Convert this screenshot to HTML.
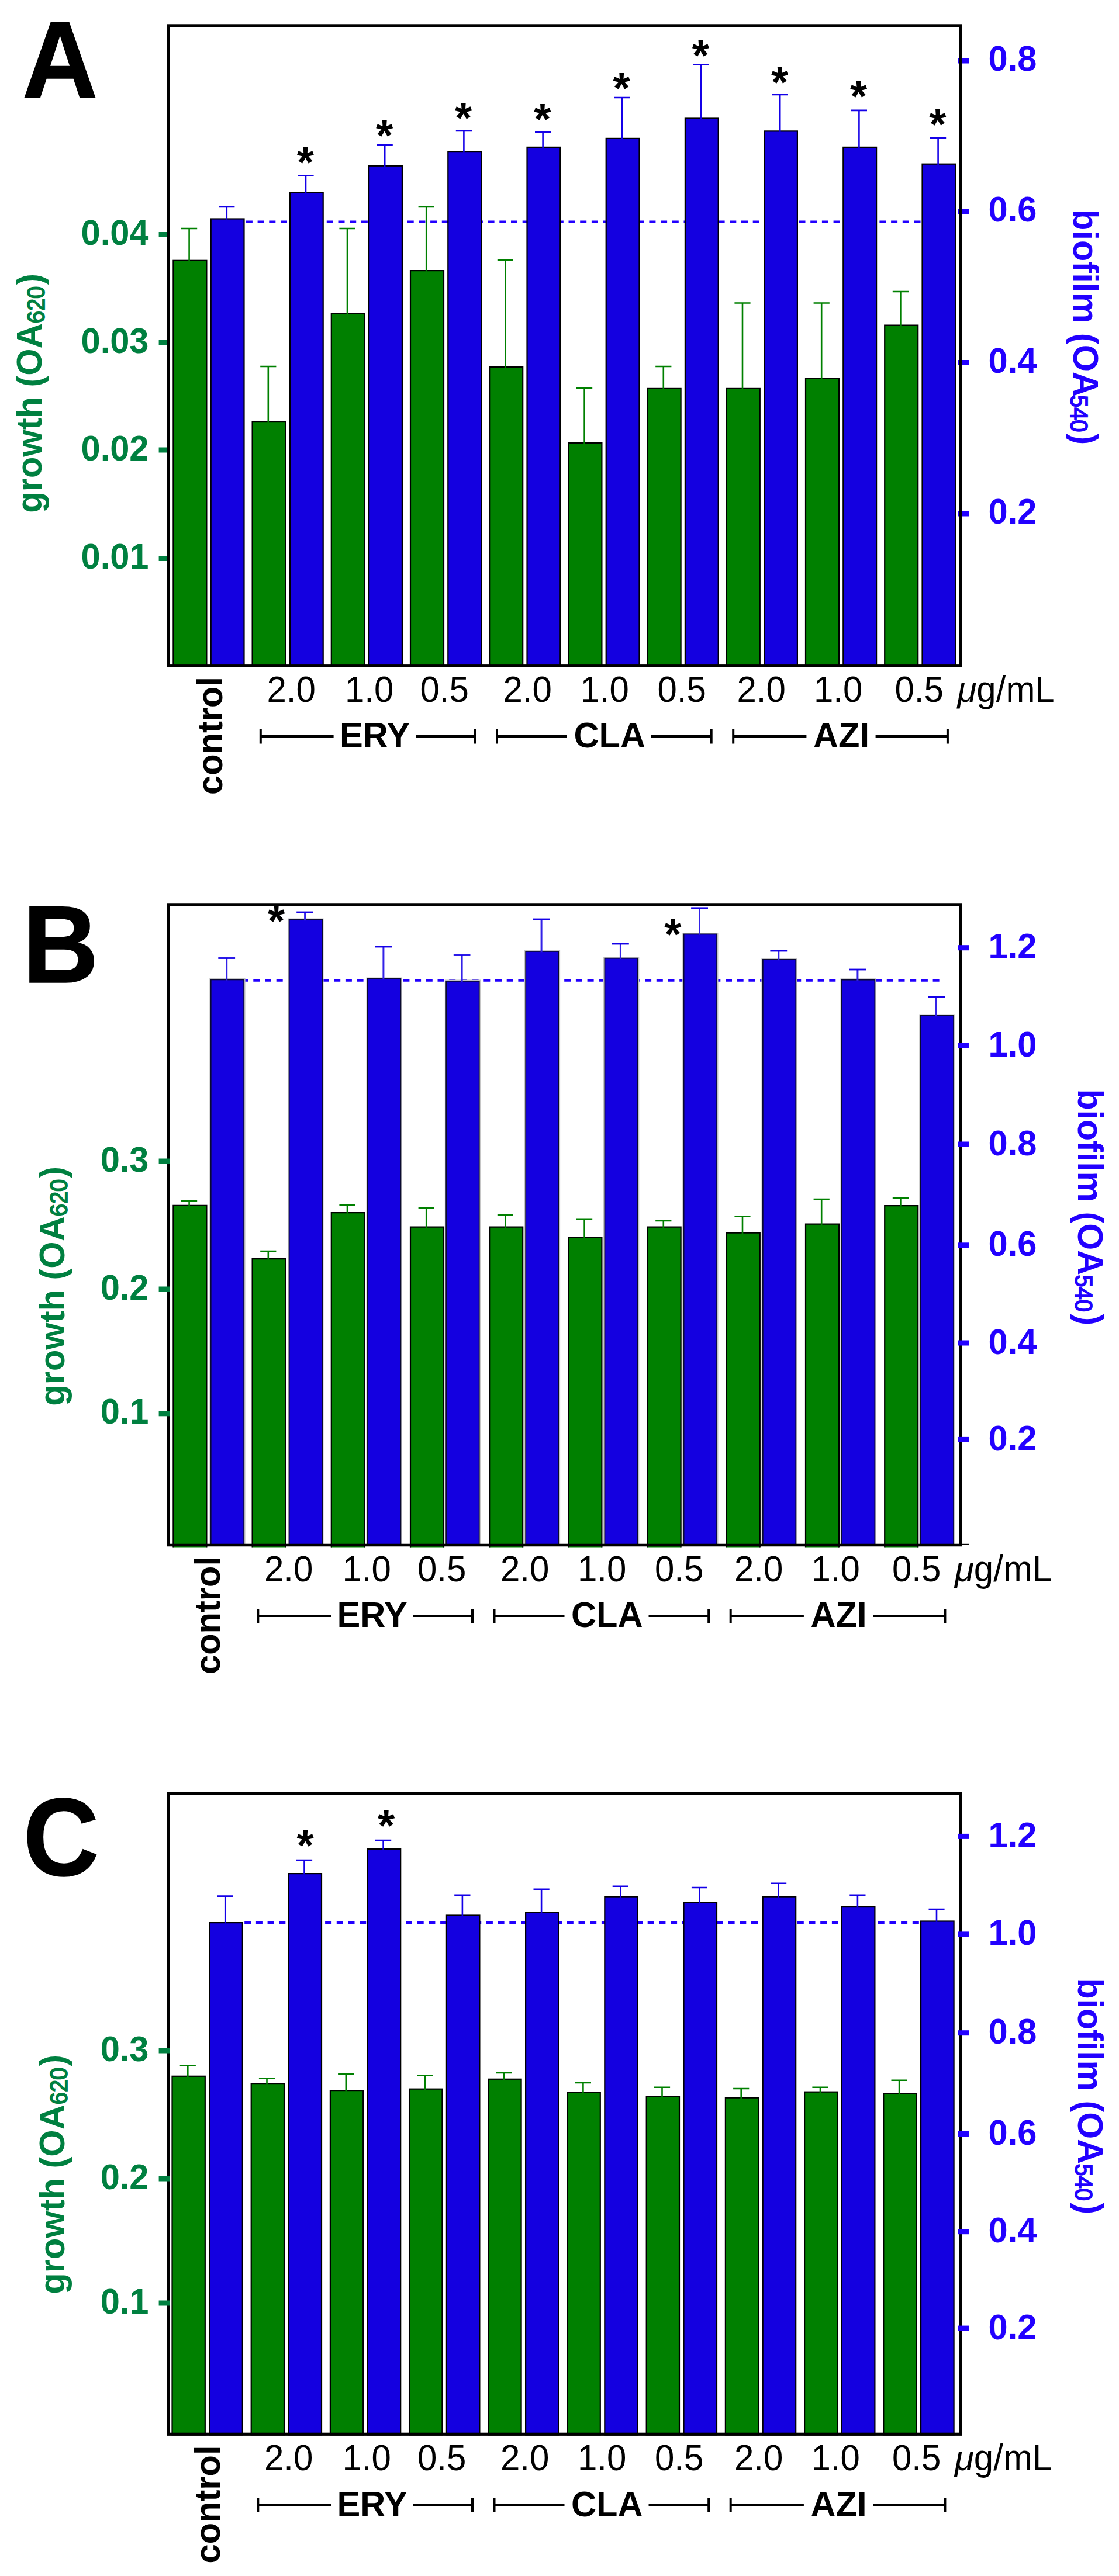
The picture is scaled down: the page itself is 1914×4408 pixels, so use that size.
<!DOCTYPE html>
<html><head><meta charset="utf-8"><title>figure</title>
<style>html,body{margin:0;padding:0;background:#fff}svg{display:block}text{font-family:"Liberation Sans", sans-serif}</style>
</head><body>
<svg width="1914" height="4408" viewBox="0 0 1914 4408">
<rect width="1914" height="4408" fill="#fff"/>
<g id="panelA">
<line x1="420.90000000000003" y1="379.8" x2="1600" y2="379.8" stroke="#2200ff" stroke-width="4.4" stroke-dasharray="11 8.7"/>
<rect x="296.4" y="445.8" width="57.0" height="694.8" fill="#008000" stroke="#000" stroke-width="2.2"/>
<path d="M323.6 447.1V391.0M310.0 391.0H337.2" stroke="#008000" stroke-width="2.6" fill="none"/>
<rect x="360.7" y="374.5" width="56.8" height="766.1" fill="#1400e0" stroke="#000" stroke-width="2.2"/>
<path d="M387.8 375.8V354.0M374.2 354.0H401.4" stroke="#1400e8" stroke-width="2.6" fill="none"/>
<rect x="431.6" y="721.1" width="57.0" height="419.5" fill="#008000" stroke="#000" stroke-width="2.2"/>
<path d="M458.8 722.4V627.0M445.2 627.0H472.4" stroke="#008000" stroke-width="2.6" fill="none"/>
<rect x="495.9" y="329.4" width="56.8" height="811.2" fill="#1400e0" stroke="#000" stroke-width="2.2"/>
<path d="M523.0 330.7V300.3M509.4 300.3H536.6" stroke="#1400e8" stroke-width="2.6" fill="none"/>
<rect x="566.8" y="536.5" width="57.0" height="604.1" fill="#008000" stroke="#000" stroke-width="2.2"/>
<path d="M594.0 537.8V391.0M580.4 391.0H607.6" stroke="#008000" stroke-width="2.6" fill="none"/>
<rect x="631.1" y="283.8" width="56.8" height="856.8" fill="#1400e0" stroke="#000" stroke-width="2.2"/>
<path d="M658.2 285.1V248.3M644.6 248.3H671.8" stroke="#1400e8" stroke-width="2.6" fill="none"/>
<rect x="702.0" y="463.1" width="57.0" height="677.5" fill="#008000" stroke="#000" stroke-width="2.2"/>
<path d="M729.2 464.4V354.0M715.6 354.0H742.8" stroke="#008000" stroke-width="2.6" fill="none"/>
<rect x="766.3" y="259.1" width="56.8" height="881.5" fill="#1400e0" stroke="#000" stroke-width="2.2"/>
<path d="M793.4 260.4V224.0M779.8 224.0H807.0" stroke="#1400e8" stroke-width="2.6" fill="none"/>
<rect x="837.2" y="628.1" width="57.0" height="512.5" fill="#008000" stroke="#000" stroke-width="2.2"/>
<path d="M864.4 629.4V444.7M850.8 444.7H878.0" stroke="#008000" stroke-width="2.6" fill="none"/>
<rect x="901.5" y="251.9" width="56.8" height="888.7" fill="#1400e0" stroke="#000" stroke-width="2.2"/>
<path d="M928.6 253.2V226.4M915.0 226.4H942.2" stroke="#1400e8" stroke-width="2.6" fill="none"/>
<rect x="972.4" y="758.1" width="57.0" height="382.5" fill="#008000" stroke="#000" stroke-width="2.2"/>
<path d="M999.6 759.4V663.8M986.0 663.8H1013.2" stroke="#008000" stroke-width="2.6" fill="none"/>
<rect x="1036.7" y="236.9" width="56.8" height="903.7" fill="#1400e0" stroke="#000" stroke-width="2.2"/>
<path d="M1063.8 238.2V167.0M1050.2 167.0H1077.4" stroke="#1400e8" stroke-width="2.6" fill="none"/>
<rect x="1107.6" y="664.9" width="57.0" height="475.7" fill="#008000" stroke="#000" stroke-width="2.2"/>
<path d="M1134.8 666.2V627.0M1121.2 627.0H1148.4" stroke="#008000" stroke-width="2.6" fill="none"/>
<rect x="1171.9" y="202.5" width="56.8" height="938.1" fill="#1400e0" stroke="#000" stroke-width="2.2"/>
<path d="M1199.0 203.8V110.7M1185.4 110.7H1212.6" stroke="#1400e8" stroke-width="2.6" fill="none"/>
<rect x="1242.8" y="664.9" width="57.0" height="475.7" fill="#008000" stroke="#000" stroke-width="2.2"/>
<path d="M1270.0 666.2V518.5M1256.4 518.5H1283.6" stroke="#008000" stroke-width="2.6" fill="none"/>
<rect x="1307.1" y="224.4" width="56.8" height="916.2" fill="#1400e0" stroke="#000" stroke-width="2.2"/>
<path d="M1334.2 225.7V162.0M1320.6 162.0H1347.8" stroke="#1400e8" stroke-width="2.6" fill="none"/>
<rect x="1378.0" y="647.4" width="57.0" height="493.2" fill="#008000" stroke="#000" stroke-width="2.2"/>
<path d="M1405.2 648.7V518.5M1391.6 518.5H1418.8" stroke="#008000" stroke-width="2.6" fill="none"/>
<rect x="1442.3" y="251.9" width="56.8" height="888.7" fill="#1400e0" stroke="#000" stroke-width="2.2"/>
<path d="M1469.4 253.2V188.9M1455.8 188.9H1483.0" stroke="#1400e8" stroke-width="2.6" fill="none"/>
<rect x="1513.2" y="556.6" width="57.0" height="584.0" fill="#008000" stroke="#000" stroke-width="2.2"/>
<path d="M1540.4 557.9V499.0M1526.8 499.0H1554.0" stroke="#008000" stroke-width="2.6" fill="none"/>
<rect x="1577.5" y="280.7" width="56.8" height="859.9" fill="#1400e0" stroke="#000" stroke-width="2.2"/>
<path d="M1604.6 282.0V235.8M1591.0 235.8H1618.2" stroke="#1400e8" stroke-width="2.6" fill="none"/>
<rect x="271.6" y="397.0" width="19.2" height="9" fill="#008040"/>
<rect x="271.6" y="581.5" width="19.2" height="9" fill="#008040"/>
<rect x="271.6" y="765.5" width="19.2" height="9" fill="#008040"/>
<rect x="271.6" y="951.0" width="19.2" height="9" fill="#008040"/>
<rect x="1638" y="99.5" width="19.2" height="9" fill="#2200ff"/>
<rect x="1638" y="357.5" width="19.2" height="9" fill="#2200ff"/>
<rect x="1638" y="616.0" width="19.2" height="9" fill="#2200ff"/>
<rect x="1638" y="874.5" width="19.2" height="9" fill="#2200ff"/>
<rect x="288.3" y="43.7" width="1354.4" height="1095.8" fill="none" stroke="#000" stroke-width="4.8"/>
<text transform="translate(254.5 419.0) scale(1 1.04)" font-size="59.6" font-weight="bold" text-anchor="end" fill="#008040">0.04</text>
<text transform="translate(254.5 603.5) scale(1 1.04)" font-size="59.6" font-weight="bold" text-anchor="end" fill="#008040">0.03</text>
<text transform="translate(254.5 787.5) scale(1 1.04)" font-size="59.6" font-weight="bold" text-anchor="end" fill="#008040">0.02</text>
<text transform="translate(254.5 973.0) scale(1 1.04)" font-size="59.6" font-weight="bold" text-anchor="end" fill="#008040">0.01</text>
<text transform="translate(1690.5 121.0) scale(1 1.04)" font-size="59.6" font-weight="bold" fill="#2200ff">0.8</text>
<text transform="translate(1690.5 379.0) scale(1 1.04)" font-size="59.6" font-weight="bold" fill="#2200ff">0.6</text>
<text transform="translate(1690.5 637.5) scale(1 1.04)" font-size="59.6" font-weight="bold" fill="#2200ff">0.4</text>
<text transform="translate(1690.5 896.0) scale(1 1.04)" font-size="59.6" font-weight="bold" fill="#2200ff">0.2</text>
<text transform="translate(522.3 303.3)" font-size="75" font-weight="bold" text-anchor="middle" fill="#000">*</text>
<text transform="translate(657.5 257.0)" font-size="75" font-weight="bold" text-anchor="middle" fill="#000">*</text>
<text transform="translate(792.7 227.0)" font-size="75" font-weight="bold" text-anchor="middle" fill="#000">*</text>
<text transform="translate(927.9 229.0)" font-size="75" font-weight="bold" text-anchor="middle" fill="#000">*</text>
<text transform="translate(1063.1 176.0)" font-size="75" font-weight="bold" text-anchor="middle" fill="#000">*</text>
<text transform="translate(1198.3 119.8)" font-size="75" font-weight="bold" text-anchor="middle" fill="#000">*</text>
<text transform="translate(1333.5 165.5)" font-size="75" font-weight="bold" text-anchor="middle" fill="#000">*</text>
<text transform="translate(1468.7 189.8)" font-size="75" font-weight="bold" text-anchor="middle" fill="#000">*</text>
<text transform="translate(1603.9 238.0)" font-size="75" font-weight="bold" text-anchor="middle" fill="#000">*</text>
<text transform="translate(38.0 167.0) scale(1 1.047)" font-size="179" font-weight="bold" fill="#000" stroke="#000" stroke-width="1.6">A</text>
<g transform="translate(71.3 877.7) rotate(-90)" fill="#008040">
<text transform="translate(0.0 0.0) scale(1 1.04)" font-size="59.6" font-weight="bold" fill="#008040">growth (OA</text>
<text transform="translate(324.5 4.7) scale(1 1.12)" font-size="38" fill="#008040" stroke="#008040" stroke-width="1.5">620</text>
<text transform="translate(390.0 0.0) scale(1 1.04)" font-size="59.6" font-weight="bold" fill="#008040">)</text>
</g>
<g transform="translate(1836 358) rotate(90)" fill="#2200ff">
<text transform="translate(0.0 0.0) scale(1 1.04)" font-size="59.6" font-weight="bold" fill="#2200ff">biofilm (OA</text>
<text transform="translate(318.0 4.7) scale(1 1.12)" font-size="38" fill="#2200ff" stroke="#2200ff" stroke-width="1.5">540</text>
<text transform="translate(383.5 0.0) scale(1 1.04)" font-size="59.6" font-weight="bold" fill="#2200ff">)</text>
</g>
<g transform="translate(0 0)" fill="#000">
<text transform="translate(380.0 1360.0) rotate(-90) scale(1 1.04)" font-size="59.6" font-weight="bold" fill="#000">control</text>
<text transform="translate(456.5 1200.5) scale(1 1.035)" font-size="60" fill="#000">2.0</text>
<text transform="translate(590.0 1200.5) scale(1 1.035)" font-size="60" fill="#000">1.0</text>
<text transform="translate(718.5 1200.5) scale(1 1.035)" font-size="60" fill="#000">0.5</text>
<text transform="translate(860.5 1200.5) scale(1 1.035)" font-size="60" fill="#000">2.0</text>
<text transform="translate(992.5 1200.5) scale(1 1.035)" font-size="60" fill="#000">1.0</text>
<text transform="translate(1124.5 1200.5) scale(1 1.035)" font-size="60" fill="#000">0.5</text>
<text transform="translate(1260.5 1200.5) scale(1 1.035)" font-size="60" fill="#000">2.0</text>
<text transform="translate(1392.0 1200.5) scale(1 1.035)" font-size="60" fill="#000">1.0</text>
<text transform="translate(1530.5 1200.5) scale(1 1.035)" font-size="60" fill="#000">0.5</text>
<text transform="translate(1637.5 1200.5) scale(1 1.035)" font-size="60" fill="#000"><tspan font-style="italic">μ</tspan>g/mL</text>
<text transform="translate(581.0 1279.0) scale(1 1.04)" font-size="59.6" font-weight="bold" fill="#000">ERY</text>
<path d="M445.8 1248V1272.4M445.8 1260H570.6M711 1260H812.5M812.5 1248V1272.4" stroke="#000" stroke-width="4" fill="none"/>
<text transform="translate(981.5 1279.0) scale(1 1.04)" font-size="59.6" font-weight="bold" fill="#000">CLA</text>
<path d="M850.0 1248V1272.4M850.0 1260H970M1114 1260H1216.7M1216.7 1248V1272.4" stroke="#000" stroke-width="4" fill="none"/>
<text transform="translate(1391.0 1279.0) scale(1 1.04)" font-size="59.6" font-weight="bold" fill="#000">AZI</text>
<path d="M1254.2 1248V1272.4M1254.2 1260H1379.4M1497.6 1260H1620.9M1620.9 1248V1272.4" stroke="#000" stroke-width="4" fill="none"/>
</g>
</g>
<g id="panelB">
<line x1="413.6" y1="1677.6" x2="1615" y2="1677.6" stroke="#2200ff" stroke-width="4.4" stroke-dasharray="11 8.7"/>
<path d="M296.4 2648.5V2062.8H353.4V2648.5" fill="#008000" stroke="#000" stroke-width="2.2"/>
<path d="M323.6 2064.1V2054.8M310.0 2054.8H337.2" stroke="#008000" stroke-width="2.6" fill="none"/>
<rect x="358.3" y="1674.0" width="61.3" height="969.0" fill="#c6c6c6"/>
<rect x="360.7" y="1676.4" width="56.5" height="967.5" fill="#1400e0" stroke="#0a0a30" stroke-width="1.8"/>
<path d="M387.7 1677.7V1639.5" stroke="#3322e8" stroke-width="3" fill="none"/>
<path d="M373.3 1639.5H402.1" stroke="#1400e8" stroke-width="2.8" fill="none"/>
<path d="M431.6 2648.5V2154.1H488.6V2648.5" fill="#008000" stroke="#000" stroke-width="2.2"/>
<path d="M458.8 2155.4V2141.0M445.2 2141.0H472.4" stroke="#008000" stroke-width="2.6" fill="none"/>
<rect x="492.2" y="1571.5" width="61.3" height="1071.5" fill="#c6c6c6"/>
<rect x="494.6" y="1573.9" width="56.5" height="1070.0" fill="#1400e0" stroke="#0a0a30" stroke-width="1.8"/>
<path d="M521.6 1575.2V1561.0" stroke="#3322e8" stroke-width="3" fill="none"/>
<path d="M507.2 1561.0H536.0" stroke="#1400e8" stroke-width="2.8" fill="none"/>
<path d="M566.8 2648.5V2075.1H623.8V2648.5" fill="#008000" stroke="#000" stroke-width="2.2"/>
<path d="M594.0 2076.4V2062.0M580.4 2062.0H607.6" stroke="#008000" stroke-width="2.6" fill="none"/>
<rect x="626.5" y="1672.5" width="61.3" height="970.5" fill="#c6c6c6"/>
<rect x="628.9" y="1674.9" width="56.5" height="969.0" fill="#1400e0" stroke="#0a0a30" stroke-width="1.8"/>
<path d="M655.9 1676.2V1620.0" stroke="#3322e8" stroke-width="3" fill="none"/>
<path d="M641.5 1620.0H670.2" stroke="#1400e8" stroke-width="2.8" fill="none"/>
<path d="M702.0 2648.5V2099.7H759.0V2648.5" fill="#008000" stroke="#000" stroke-width="2.2"/>
<path d="M729.2 2101.0V2067.0M715.6 2067.0H742.8" stroke="#008000" stroke-width="2.6" fill="none"/>
<rect x="760.8" y="1676.5" width="61.3" height="966.5" fill="#c6c6c6"/>
<rect x="763.2" y="1678.9" width="56.5" height="965.0" fill="#1400e0" stroke="#0a0a30" stroke-width="1.8"/>
<path d="M790.1 1680.2V1634.5" stroke="#3322e8" stroke-width="3" fill="none"/>
<path d="M775.8 1634.5H804.5" stroke="#1400e8" stroke-width="2.8" fill="none"/>
<path d="M837.2 2648.5V2099.7H894.2V2648.5" fill="#008000" stroke="#000" stroke-width="2.2"/>
<path d="M864.4 2101.0V2079.0M850.8 2079.0H878.0" stroke="#008000" stroke-width="2.6" fill="none"/>
<rect x="896.8" y="1625.5" width="61.3" height="1017.5" fill="#c6c6c6"/>
<rect x="899.2" y="1627.9" width="56.5" height="1016.0" fill="#1400e0" stroke="#0a0a30" stroke-width="1.8"/>
<path d="M926.1 1629.2V1573.0" stroke="#3322e8" stroke-width="3" fill="none"/>
<path d="M911.8 1573.0H940.5" stroke="#1400e8" stroke-width="2.8" fill="none"/>
<path d="M972.4 2648.5V2117.1H1029.4V2648.5" fill="#008000" stroke="#000" stroke-width="2.2"/>
<path d="M999.6 2118.4V2086.7M986.0 2086.7H1013.2" stroke="#008000" stroke-width="2.6" fill="none"/>
<rect x="1032.0" y="1637.3" width="61.3" height="1005.7" fill="#c6c6c6"/>
<rect x="1034.4" y="1639.7" width="56.5" height="1004.2" fill="#1400e0" stroke="#0a0a30" stroke-width="1.8"/>
<path d="M1061.4 1641.0V1615.0" stroke="#3322e8" stroke-width="3" fill="none"/>
<path d="M1047.0 1615.0H1075.8" stroke="#1400e8" stroke-width="2.8" fill="none"/>
<path d="M1107.6 2648.5V2099.7H1164.6V2648.5" fill="#008000" stroke="#000" stroke-width="2.2"/>
<path d="M1134.8 2101.0V2089.0M1121.2 2089.0H1148.4" stroke="#008000" stroke-width="2.6" fill="none"/>
<rect x="1167.2" y="1596.0" width="61.3" height="1047.0" fill="#c6c6c6"/>
<rect x="1169.6" y="1598.4" width="56.5" height="1045.5" fill="#1400e0" stroke="#0a0a30" stroke-width="1.8"/>
<path d="M1196.5 1599.7V1553.8" stroke="#3322e8" stroke-width="3" fill="none"/>
<path d="M1182.1 1553.8H1211.0" stroke="#1400e8" stroke-width="2.8" fill="none"/>
<path d="M1242.8 2648.5V2109.7H1299.8V2648.5" fill="#008000" stroke="#000" stroke-width="2.2"/>
<path d="M1270.0 2111.0V2081.7M1256.4 2081.7H1283.6" stroke="#008000" stroke-width="2.6" fill="none"/>
<rect x="1302.4" y="1639.5" width="61.3" height="1003.5" fill="#c6c6c6"/>
<rect x="1304.8" y="1641.9" width="56.5" height="1002.0" fill="#1400e0" stroke="#0a0a30" stroke-width="1.8"/>
<path d="M1331.8 1643.2V1627.0" stroke="#3322e8" stroke-width="3" fill="none"/>
<path d="M1317.4 1627.0H1346.2" stroke="#1400e8" stroke-width="2.8" fill="none"/>
<path d="M1378.0 2648.5V2094.7H1435.0V2648.5" fill="#008000" stroke="#000" stroke-width="2.2"/>
<path d="M1405.2 2096.0V2052.0M1391.6 2052.0H1418.8" stroke="#008000" stroke-width="2.6" fill="none"/>
<rect x="1437.5" y="1674.2" width="61.3" height="968.8" fill="#c6c6c6"/>
<rect x="1439.9" y="1676.6" width="56.5" height="967.3" fill="#1400e0" stroke="#0a0a30" stroke-width="1.8"/>
<path d="M1466.9 1677.9V1659.0" stroke="#3322e8" stroke-width="3" fill="none"/>
<path d="M1452.5 1659.0H1481.3" stroke="#1400e8" stroke-width="2.8" fill="none"/>
<path d="M1513.2 2648.5V2063.1H1570.2V2648.5" fill="#008000" stroke="#000" stroke-width="2.2"/>
<path d="M1540.4 2064.4V2050.0M1526.8 2050.0H1554.0" stroke="#008000" stroke-width="2.6" fill="none"/>
<rect x="1572.2" y="1735.5" width="61.3" height="907.5" fill="#c6c6c6"/>
<rect x="1574.6" y="1737.9" width="56.5" height="906.0" fill="#1400e0" stroke="#0a0a30" stroke-width="1.8"/>
<path d="M1601.5 1739.2V1705.8" stroke="#3322e8" stroke-width="3" fill="none"/>
<path d="M1587.1 1705.8H1616.0" stroke="#1400e8" stroke-width="2.8" fill="none"/>
<path d="M288.3 2643V1548.7H1642.7V2643" fill="none" stroke="#000" stroke-width="4.8"/>
<line x1="285.90000000000003" y1="2644" x2="1645.1000000000001" y2="2644" stroke="#000" stroke-width="4.7"/>
<line x1="1642.7" y1="2642.6" x2="1657" y2="2642.6" stroke="#000" stroke-width="1.6"/>
<rect x="271.6" y="1982.5" width="19.2" height="9" fill="#008040"/>
<rect x="271.6" y="2201.5" width="19.2" height="9" fill="#008040"/>
<rect x="271.6" y="2414.3" width="19.2" height="9" fill="#008040"/>
<rect x="1638" y="1617.2" width="19.2" height="9" fill="#2200ff"/>
<rect x="1638" y="1784.7" width="19.2" height="9" fill="#2200ff"/>
<rect x="1638" y="1953.5" width="19.2" height="9" fill="#2200ff"/>
<rect x="1638" y="2126.3" width="19.2" height="9" fill="#2200ff"/>
<rect x="1638" y="2293.5" width="19.2" height="9" fill="#2200ff"/>
<rect x="1638" y="2458.9" width="19.2" height="9" fill="#2200ff"/>
<text transform="translate(254.5 2004.5) scale(1 1.04)" font-size="59.6" font-weight="bold" text-anchor="end" fill="#008040">0.3</text>
<text transform="translate(254.5 2223.5) scale(1 1.04)" font-size="59.6" font-weight="bold" text-anchor="end" fill="#008040">0.2</text>
<text transform="translate(254.5 2436.3) scale(1 1.04)" font-size="59.6" font-weight="bold" text-anchor="end" fill="#008040">0.1</text>
<text transform="translate(1690.5 1640.2) scale(1 1.04)" font-size="59.6" font-weight="bold" fill="#2200ff">1.2</text>
<text transform="translate(1690.5 1807.7) scale(1 1.04)" font-size="59.6" font-weight="bold" fill="#2200ff">1.0</text>
<text transform="translate(1690.5 1976.5) scale(1 1.04)" font-size="59.6" font-weight="bold" fill="#2200ff">0.8</text>
<text transform="translate(1690.5 2149.3) scale(1 1.04)" font-size="59.6" font-weight="bold" fill="#2200ff">0.6</text>
<text transform="translate(1690.5 2316.5) scale(1 1.04)" font-size="59.6" font-weight="bold" fill="#2200ff">0.4</text>
<text transform="translate(1690.5 2481.9) scale(1 1.04)" font-size="59.6" font-weight="bold" fill="#2200ff">0.2</text>
<text transform="translate(472.7 1600.5)" font-size="75" font-weight="bold" text-anchor="middle" fill="#000">*</text>
<text transform="translate(1150.8 1624.3)" font-size="75" font-weight="bold" text-anchor="middle" fill="#000">*</text>
<text transform="translate(39.0 1680.6) scale(1 1.047)" font-size="179" font-weight="bold" fill="#000" stroke="#000" stroke-width="1.6">B</text>
<g transform="translate(110 2405.7) rotate(-90)" fill="#008040">
<text transform="translate(0.0 0.0) scale(1 1.04)" font-size="59.6" font-weight="bold" fill="#008040">growth (OA</text>
<text transform="translate(324.5 4.7) scale(1 1.12)" font-size="38" fill="#008040" stroke="#008040" stroke-width="1.5">620</text>
<text transform="translate(390.0 0.0) scale(1 1.04)" font-size="59.6" font-weight="bold" fill="#008040">)</text>
</g>
<g transform="translate(1843.5 1863.5) rotate(90)" fill="#2200ff">
<text transform="translate(0.0 0.0) scale(1 1.04)" font-size="59.1" font-weight="bold" fill="#2200ff">biofilm (OA</text>
<text transform="translate(318.0 4.7) scale(1 1.12)" font-size="38" fill="#2200ff" stroke="#2200ff" stroke-width="1.5">540</text>
<text transform="translate(385.0 0.0) scale(1 1.04)" font-size="59.6" font-weight="bold" fill="#2200ff">)</text>
</g>
<g transform="translate(-4.5 1505)" fill="#000">
<text transform="translate(380.0 1360.0) rotate(-90) scale(1 1.04)" font-size="59.6" font-weight="bold" fill="#000">control</text>
<text transform="translate(456.5 1200.5) scale(1 1.035)" font-size="60" fill="#000">2.0</text>
<text transform="translate(590.0 1200.5) scale(1 1.035)" font-size="60" fill="#000">1.0</text>
<text transform="translate(718.5 1200.5) scale(1 1.035)" font-size="60" fill="#000">0.5</text>
<text transform="translate(860.5 1200.5) scale(1 1.035)" font-size="60" fill="#000">2.0</text>
<text transform="translate(992.5 1200.5) scale(1 1.035)" font-size="60" fill="#000">1.0</text>
<text transform="translate(1124.5 1200.5) scale(1 1.035)" font-size="60" fill="#000">0.5</text>
<text transform="translate(1260.5 1200.5) scale(1 1.035)" font-size="60" fill="#000">2.0</text>
<text transform="translate(1392.0 1200.5) scale(1 1.035)" font-size="60" fill="#000">1.0</text>
<text transform="translate(1530.5 1200.5) scale(1 1.035)" font-size="60" fill="#000">0.5</text>
<text transform="translate(1637.5 1200.5) scale(1 1.035)" font-size="60" fill="#000"><tspan font-style="italic">μ</tspan>g/mL</text>
<text transform="translate(581.0 1279.0) scale(1 1.04)" font-size="59.6" font-weight="bold" fill="#000">ERY</text>
<path d="M445.8 1248V1272.4M445.8 1260H570.6M711 1260H812.5M812.5 1248V1272.4" stroke="#000" stroke-width="4" fill="none"/>
<text transform="translate(981.5 1279.0) scale(1 1.04)" font-size="59.6" font-weight="bold" fill="#000">CLA</text>
<path d="M850.0 1248V1272.4M850.0 1260H970M1114 1260H1216.7M1216.7 1248V1272.4" stroke="#000" stroke-width="4" fill="none"/>
<text transform="translate(1391.0 1279.0) scale(1 1.04)" font-size="59.6" font-weight="bold" fill="#000">AZI</text>
<path d="M1254.2 1248V1272.4M1254.2 1260H1379.4M1497.6 1260H1620.9M1620.9 1248V1272.4" stroke="#000" stroke-width="4" fill="none"/>
</g>
</g>
<g id="panelC">
<line x1="418.2" y1="3290" x2="1600" y2="3290" stroke="#2200ff" stroke-width="4.4" stroke-dasharray="11 8.7"/>
<rect x="294.5" y="3552.8" width="56.3" height="613.6" fill="#008000" stroke="#000" stroke-width="2.2"/>
<path d="M321.3 3554.1V3534.8M307.7 3534.8H334.9" stroke="#008000" stroke-width="2.6" fill="none"/>
<rect x="358.3" y="3290.1" width="56.5" height="876.3" fill="#1400e0" stroke="#000" stroke-width="2.2"/>
<path d="M385.2 3291.4V3244.6M371.6 3244.6H398.8" stroke="#1400e8" stroke-width="2.6" fill="none"/>
<rect x="429.7" y="3565.1" width="56.3" height="601.3" fill="#008000" stroke="#000" stroke-width="2.2"/>
<path d="M456.5 3566.4V3556.7M442.9 3556.7H470.1" stroke="#008000" stroke-width="2.6" fill="none"/>
<rect x="493.5" y="3206.1" width="56.5" height="960.3" fill="#1400e0" stroke="#000" stroke-width="2.2"/>
<path d="M520.5 3207.4V3183.0M506.9 3183.0H534.1" stroke="#1400e8" stroke-width="2.6" fill="none"/>
<rect x="564.9" y="3577.1" width="56.3" height="589.3" fill="#008000" stroke="#000" stroke-width="2.2"/>
<path d="M591.8 3578.4V3549.0M578.1 3549.0H605.4" stroke="#008000" stroke-width="2.6" fill="none"/>
<rect x="628.7" y="3164.0" width="56.5" height="1002.4" fill="#1400e0" stroke="#000" stroke-width="2.2"/>
<path d="M655.6 3165.3V3149.0M642.0 3149.0H669.2" stroke="#1400e8" stroke-width="2.6" fill="none"/>
<rect x="700.1" y="3574.7" width="56.3" height="591.7" fill="#008000" stroke="#000" stroke-width="2.2"/>
<path d="M727.0 3576.0V3551.7M713.4 3551.7H740.6" stroke="#008000" stroke-width="2.6" fill="none"/>
<rect x="763.9" y="3277.5" width="56.5" height="888.9" fill="#1400e0" stroke="#000" stroke-width="2.2"/>
<path d="M790.9 3278.8V3242.7M777.2 3242.7H804.5" stroke="#1400e8" stroke-width="2.6" fill="none"/>
<rect x="835.3" y="3557.8" width="56.3" height="608.6" fill="#008000" stroke="#000" stroke-width="2.2"/>
<path d="M862.1 3559.1V3547.0M848.5 3547.0H875.8" stroke="#008000" stroke-width="2.6" fill="none"/>
<rect x="899.1" y="3272.5" width="56.5" height="893.9" fill="#1400e0" stroke="#000" stroke-width="2.2"/>
<path d="M926.1 3273.8V3232.7M912.5 3232.7H939.7" stroke="#1400e8" stroke-width="2.6" fill="none"/>
<rect x="970.5" y="3580.1" width="56.3" height="586.3" fill="#008000" stroke="#000" stroke-width="2.2"/>
<path d="M997.4 3581.4V3564.0M983.8 3564.0H1011.0" stroke="#008000" stroke-width="2.6" fill="none"/>
<rect x="1034.3" y="3245.6" width="56.5" height="920.8" fill="#1400e0" stroke="#000" stroke-width="2.2"/>
<path d="M1061.3 3246.9V3227.7M1047.7 3227.7H1074.9" stroke="#1400e8" stroke-width="2.6" fill="none"/>
<rect x="1105.7" y="3587.1" width="56.3" height="579.3" fill="#008000" stroke="#000" stroke-width="2.2"/>
<path d="M1132.5 3588.4V3571.7M1119.0 3571.7H1146.1" stroke="#008000" stroke-width="2.6" fill="none"/>
<rect x="1169.5" y="3255.7" width="56.5" height="910.7" fill="#1400e0" stroke="#000" stroke-width="2.2"/>
<path d="M1196.5 3257.0V3230.0M1182.9 3230.0H1210.0" stroke="#1400e8" stroke-width="2.6" fill="none"/>
<rect x="1240.9" y="3589.7" width="56.3" height="576.7" fill="#008000" stroke="#000" stroke-width="2.2"/>
<path d="M1267.7 3591.0V3574.0M1254.1 3574.0H1281.3" stroke="#008000" stroke-width="2.6" fill="none"/>
<rect x="1304.7" y="3245.6" width="56.5" height="920.8" fill="#1400e0" stroke="#000" stroke-width="2.2"/>
<path d="M1331.6 3246.9V3222.7M1318.0 3222.7H1345.2" stroke="#1400e8" stroke-width="2.6" fill="none"/>
<rect x="1376.1" y="3579.7" width="56.3" height="586.7" fill="#008000" stroke="#000" stroke-width="2.2"/>
<path d="M1403.0 3581.0V3571.7M1389.4 3571.7H1416.5" stroke="#008000" stroke-width="2.6" fill="none"/>
<rect x="1439.9" y="3263.1" width="56.5" height="903.3" fill="#1400e0" stroke="#000" stroke-width="2.2"/>
<path d="M1466.9 3264.4V3242.7M1453.3 3242.7H1480.5" stroke="#1400e8" stroke-width="2.6" fill="none"/>
<rect x="1511.3" y="3582.1" width="56.3" height="584.3" fill="#008000" stroke="#000" stroke-width="2.2"/>
<path d="M1538.1 3583.4V3559.8M1524.5 3559.8H1551.7" stroke="#008000" stroke-width="2.6" fill="none"/>
<rect x="1575.1" y="3287.5" width="56.5" height="878.9" fill="#1400e0" stroke="#000" stroke-width="2.2"/>
<path d="M1602.0 3288.8V3267.0M1588.5 3267.0H1615.6" stroke="#1400e8" stroke-width="2.6" fill="none"/>
<rect x="288.3" y="3069.3" width="1354.4" height="1096.0" fill="none" stroke="#000" stroke-width="5.2"/>
<rect x="271.6" y="3504.5" width="19.2" height="9" fill="#008040"/>
<rect x="271.6" y="3723.5" width="19.2" height="9" fill="#008040"/>
<rect x="271.6" y="3936.5" width="19.2" height="9" fill="#008040"/>
<rect x="1638" y="3137.9" width="19.2" height="9" fill="#2200ff"/>
<rect x="1638" y="3305.4" width="19.2" height="9" fill="#2200ff"/>
<rect x="1638" y="3474.2" width="19.2" height="9" fill="#2200ff"/>
<rect x="1638" y="3647.0" width="19.2" height="9" fill="#2200ff"/>
<rect x="1638" y="3814.2" width="19.2" height="9" fill="#2200ff"/>
<rect x="1638" y="3979.6000000000004" width="19.2" height="9" fill="#2200ff"/>
<text transform="translate(254.5 3526.5) scale(1 1.04)" font-size="59.6" font-weight="bold" text-anchor="end" fill="#008040">0.3</text>
<text transform="translate(254.5 3745.5) scale(1 1.04)" font-size="59.6" font-weight="bold" text-anchor="end" fill="#008040">0.2</text>
<text transform="translate(254.5 3958.5) scale(1 1.04)" font-size="59.6" font-weight="bold" text-anchor="end" fill="#008040">0.1</text>
<text transform="translate(1690.5 3160.9) scale(1 1.04)" font-size="59.6" font-weight="bold" fill="#2200ff">1.2</text>
<text transform="translate(1690.5 3328.4) scale(1 1.04)" font-size="59.6" font-weight="bold" fill="#2200ff">1.0</text>
<text transform="translate(1690.5 3497.2) scale(1 1.04)" font-size="59.6" font-weight="bold" fill="#2200ff">0.8</text>
<text transform="translate(1690.5 3670.0) scale(1 1.04)" font-size="59.6" font-weight="bold" fill="#2200ff">0.6</text>
<text transform="translate(1690.5 3837.2) scale(1 1.04)" font-size="59.6" font-weight="bold" fill="#2200ff">0.4</text>
<text transform="translate(1690.5 4002.6) scale(1 1.04)" font-size="59.6" font-weight="bold" fill="#2200ff">0.2</text>
<text transform="translate(522.0 3183.0)" font-size="75" font-weight="bold" text-anchor="middle" fill="#000">*</text>
<text transform="translate(660.6 3148.5)" font-size="75" font-weight="bold" text-anchor="middle" fill="#000">*</text>
<text transform="translate(40.0 3209.0) scale(1 1.058)" font-size="179" font-weight="bold" fill="#000" stroke="#000" stroke-width="1.6">C</text>
<g transform="translate(110 3925.7) rotate(-90)" fill="#008040">
<text transform="translate(0.0 0.0) scale(1 1.04)" font-size="59.6" font-weight="bold" fill="#008040">growth (OA</text>
<text transform="translate(324.5 4.7) scale(1 1.12)" font-size="38" fill="#008040" stroke="#008040" stroke-width="1.5">620</text>
<text transform="translate(390.0 0.0) scale(1 1.04)" font-size="59.6" font-weight="bold" fill="#008040">)</text>
</g>
<g transform="translate(1843.5 3384.5) rotate(90)" fill="#2200ff">
<text transform="translate(0.0 0.0) scale(1 1.04)" font-size="59.1" font-weight="bold" fill="#2200ff">biofilm (OA</text>
<text transform="translate(318.0 4.7) scale(1 1.12)" font-size="38" fill="#2200ff" stroke="#2200ff" stroke-width="1.5">540</text>
<text transform="translate(385.0 0.0) scale(1 1.04)" font-size="59.6" font-weight="bold" fill="#2200ff">)</text>
</g>
<g transform="translate(-4.5 3026.5)" fill="#000">
<text transform="translate(380.0 1360.0) rotate(-90) scale(1 1.04)" font-size="59.6" font-weight="bold" fill="#000">control</text>
<text transform="translate(456.5 1200.5) scale(1 1.035)" font-size="60" fill="#000">2.0</text>
<text transform="translate(590.0 1200.5) scale(1 1.035)" font-size="60" fill="#000">1.0</text>
<text transform="translate(718.5 1200.5) scale(1 1.035)" font-size="60" fill="#000">0.5</text>
<text transform="translate(860.5 1200.5) scale(1 1.035)" font-size="60" fill="#000">2.0</text>
<text transform="translate(992.5 1200.5) scale(1 1.035)" font-size="60" fill="#000">1.0</text>
<text transform="translate(1124.5 1200.5) scale(1 1.035)" font-size="60" fill="#000">0.5</text>
<text transform="translate(1260.5 1200.5) scale(1 1.035)" font-size="60" fill="#000">2.0</text>
<text transform="translate(1392.0 1200.5) scale(1 1.035)" font-size="60" fill="#000">1.0</text>
<text transform="translate(1530.5 1200.5) scale(1 1.035)" font-size="60" fill="#000">0.5</text>
<text transform="translate(1637.5 1200.5) scale(1 1.035)" font-size="60" fill="#000"><tspan font-style="italic">μ</tspan>g/mL</text>
<text transform="translate(581.0 1279.0) scale(1 1.04)" font-size="59.6" font-weight="bold" fill="#000">ERY</text>
<path d="M445.8 1248V1272.4M445.8 1260H570.6M711 1260H812.5M812.5 1248V1272.4" stroke="#000" stroke-width="4" fill="none"/>
<text transform="translate(981.5 1279.0) scale(1 1.04)" font-size="59.6" font-weight="bold" fill="#000">CLA</text>
<path d="M850.0 1248V1272.4M850.0 1260H970M1114 1260H1216.7M1216.7 1248V1272.4" stroke="#000" stroke-width="4" fill="none"/>
<text transform="translate(1391.0 1279.0) scale(1 1.04)" font-size="59.6" font-weight="bold" fill="#000">AZI</text>
<path d="M1254.2 1248V1272.4M1254.2 1260H1379.4M1497.6 1260H1620.9M1620.9 1248V1272.4" stroke="#000" stroke-width="4" fill="none"/>
</g>
</g>
</svg>
</body></html>
